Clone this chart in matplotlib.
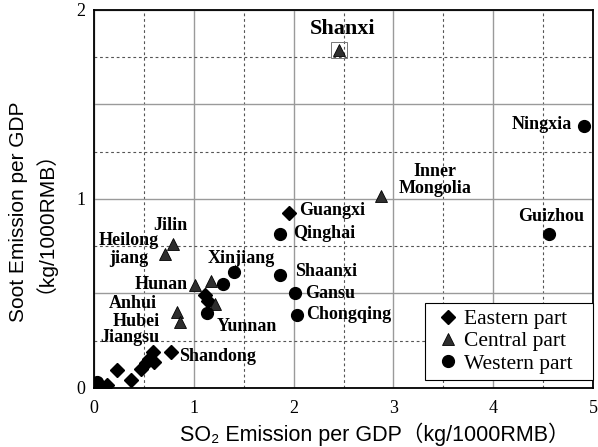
import matplotlib
matplotlib.use("Agg")
import matplotlib.pyplot as plt
from matplotlib.ticker import MultipleLocator, FuncFormatter

# ---------------- data ----------------
east_names = ["Guangxi", "Shandong", "Jiangsu", "", "", "", "", "", "", "", "", "", ""]
east_so2 = [1.955, 0.77, 0.59, 0.555, 0.52, 0.475, 0.605, 0.234, 0.374, 0.13, 0.05, 1.11, 1.14]
east_soot = [0.925, 0.19, 0.19, 0.155, 0.13, 0.10, 0.14, 0.093, 0.042, 0.016, 0.02, 0.49, 0.46]

central_names = ["Shanxi", "Inner\nMongolia", "Jilin", "Heilong\njiang", "Hunan", "", "", "Anhui", "Hubei"]
central_so2 = [2.457, 2.872, 0.792, 0.709, 1.01, 1.17, 1.21, 0.832, 0.862]
central_soot = [1.785, 1.016, 0.76, 0.707, 0.545, 0.566, 0.444, 0.404, 0.351]

west_names = ["Ningxia", "Guizhou", "Qinghai", "Shaanxi", "Gansu", "Chongqing", "Xinjiang", "", "Yunnan", ""]
west_so2 = [4.905, 4.554, 1.865, 1.862, 2.015, 2.033, 1.40, 1.294, 1.137, 0.03]
west_soot = [1.383, 0.813, 0.815, 0.598, 0.50, 0.388, 0.612, 0.55, 0.395, 0.03]

legend_labels = ["Eastern part", "Central part", "Western part"]
x_ticks = [0, 1, 2, 3, 4, 5]
y_ticks = [0, 1, 2]

# label layout: offset in pixels from the point and horizontal alignment
label_layout = {
    "Guangxi": ((10, 3), "left"),
    "Shandong": ((8, -4), "left"),
    "Jiangsu": ((-23, 15), "center"),
    "Shanxi": ((3, 21), "center"),
    "Inner\nMongolia": ((54, 16), "center"),
    "Jilin": ((-3, 19), "center"),
    "Heilong\njiang": ((-36, 5), "center"),
    "Hunan": ((-7, 0), "right"),
    "Anhui": ((-44, 8), "center"),
    "Hubei": ((-44, 0), "center"),
    "Ningxia": ((-12, 2), "right"),
    "Guizhou": ((2, 18), "center"),
    "Qinghai": ((13, 0), "left"),
    "Shaanxi": ((15, 3), "left"),
    "Gansu": ((10, 0), "left"),
    "Chongqing": ((9, 0), "left"),
    "Xinjiang": ((8, 14), "center"),
    "Yunnan": ((39, -13), "center"),
}

# ---------------- figure ----------------
plt.rcParams["font.family"] = ["Liberation Serif", "DejaVu Serif"]
sans = ["Liberation Sans", "DejaVu Sans", "Noto Sans CJK SC"]

fig = plt.figure(figsize=(5.98, 4.47), dpi=100)
ax = fig.add_axes([0.157, 0.132, 0.835, 0.846])

ax.set_xlim(0, 5)
ax.set_ylim(0, 2)

ax.xaxis.set_major_locator(MultipleLocator(1))
ax.xaxis.set_minor_locator(MultipleLocator(0.5))
ax.yaxis.set_major_locator(MultipleLocator(0.5))
ax.yaxis.set_minor_locator(MultipleLocator(0.25))
ax.yaxis.set_major_formatter(FuncFormatter(lambda v, p: f"{int(v)}" if v in y_ticks else ""))
ax.xaxis.set_major_formatter(FuncFormatter(lambda v, p: f"{int(v)}" if v in x_ticks else ""))

ax.grid(which="major", color="#9a9a9a", linewidth=1.0, linestyle="-")
ax.grid(which="minor", color="#555555", linewidth=0.8, linestyle=(0, (2.5, 2.5)))
ax.set_axisbelow(True)

ax.tick_params(axis="both", which="both", length=0, labelsize=13)
ax.tick_params(axis="x", pad=9)
ax.tick_params(axis="y", pad=6)
for s in ax.spines.values():
    s.set_color("black")
    s.set_linewidth(1.3)

ax.plot(east_so2, east_soot, linestyle="none", marker="D", markersize=7.5,
        color="black", label=legend_labels[0], zorder=3)
ax.plot(central_so2, central_soot, linestyle="none", marker="^", markersize=9,
        markerfacecolor="#2e2e2e", markeredgecolor="black", markeredgewidth=0.6,
        label=legend_labels[1], zorder=3)
ax.plot(west_so2, west_soot, linestyle="none", marker="o", markersize=8.5,
        color="black", label=legend_labels[2], zorder=3)

# dotted box around Shanxi
ax.plot([central_so2[0]], [central_soot[0]], linestyle="none", marker="s", markersize=11,
        markerfacecolor="none", markeredgecolor="#777777", markeredgewidth=0.7, zorder=2)

for names, xs, ys in [(east_names, east_so2, east_soot),
                      (central_names, central_so2, central_soot),
                      (west_names, west_so2, west_soot)]:
    for n, x, y in zip(names, xs, ys):
        if not n:
            continue
        off, ha = label_layout[n]
        size = 16 if n == "Shanxi" else 13
        ax.annotate(n, (x, y), xytext=off, textcoords="offset pixels",
                    ha=ha, va="center", fontsize=size, fontweight="bold",
                    multialignment="center", linespacing=1.05, zorder=4)

ax.set_xlabel("SO₂ Emission per GDP（kg/1000RMB）", family=sans, fontsize=15.5)
ax.set_ylabel("Soot Emission per GDP\n（kg/1000RMB）", family=sans, fontsize=15,
              linespacing=0.75)
ax.xaxis.set_label_coords(0.562, -0.092)
ax.yaxis.set_label_coords(-0.098, 0.466)

leg = ax.legend(loc="lower left", bbox_to_anchor=(0.663, 0.021, 0.337, 0.2),
                mode="expand", borderaxespad=0,
                fancybox=False, framealpha=1, edgecolor="black", fontsize=15.5,
                handletextpad=0.0, handlelength=1.5, borderpad=0.3, labelspacing=0.1)
leg.get_frame().set_linewidth(0.8)

fig.savefig("out.png", dpi=100)
